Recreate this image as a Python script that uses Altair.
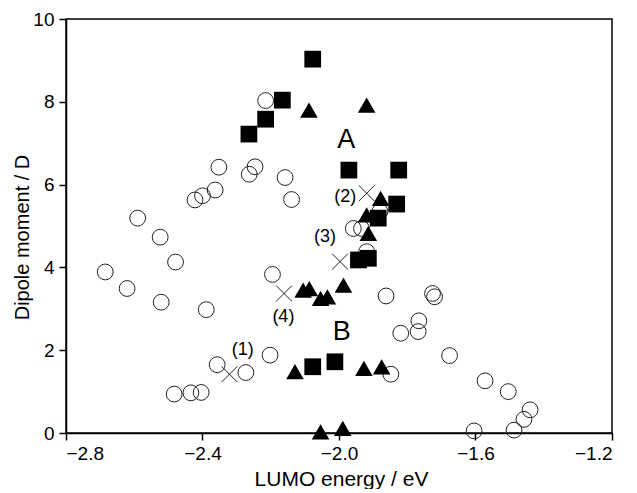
import altair as alt
import pandas as pd

# Open circles
circ_x = [-2.685, -2.621, -2.590, -2.524, -2.521, -2.483, -2.479, -2.434, -2.422, -2.404,
          -2.400, -2.389, -2.363, -2.357, -2.352, -2.273, -2.263, -2.246, -2.215, -2.202,
          -2.195, -2.158, -2.139, -1.958, -1.934, -1.880, -1.919, -1.862, -1.848, -1.819,
          -1.768, -1.766, -1.726, -1.720, -1.676, -1.604, -1.572, -1.504, -1.487, -1.458,
          -1.440]
circ_y = [3.89, 3.49, 5.19, 4.73, 3.16, 0.94, 4.13, 0.97, 5.63, 0.98,
          5.73, 2.98, 5.87, 1.65, 6.42, 1.46, 6.25, 6.43, 8.03, 1.88,
          3.83, 6.17, 5.64, 4.94, 4.94, 5.35, 4.38, 3.31, 1.42, 2.41,
          2.45, 2.71, 3.37, 3.29, 1.87, 0.05, 1.26, 1.00, 0.07, 0.33,
          0.56]

# Filled squares
sq_x = [-2.264, -2.215, -2.166, -2.077, -1.971, -1.825, -1.831, -1.885, -1.943, -1.914,
        -2.077, -2.012]
sq_y = [7.22, 7.58, 8.04, 9.03, 6.35, 6.35, 5.53, 5.19, 4.18, 4.22,
        1.60, 1.72]

# Filled triangles
tri_x = [-2.088, -1.919, -1.878, -1.919, -1.914, -2.105, -2.087, -2.054, -2.034, -1.987,
         -2.129, -1.927, -1.875, -2.054, -1.989]
tri_y = [7.80, 7.92, 5.67, 5.27, 4.82, 3.45, 3.49, 3.25, 3.29, 3.57,
         1.48, 1.56, 1.60, 0.03, 0.11]

# Crosses with numbered labels
cross_x = [-2.321, -1.919, -1.997, -2.161]
cross_y = [1.42, 5.79, 4.14, 3.37]
cross_lab = ["(1)", "(2)", "(3)", "(4)"]
lab_x = [-2.282, -1.982, -2.041, -2.163]
lab_y = [2.00, 5.71, 4.73, 2.79]

# Group letters
grp_lab = ["A", "B"]
grp_x = [-1.979, -1.992]
grp_y = [7.08, 2.45]

x_ticks = [-2.8, -2.4, -2.0, -1.6, -1.2]
y_ticks = [0, 2, 4, 6, 8, 10]

circles = pd.DataFrame({"x": circ_x, "y": circ_y})
squares = pd.DataFrame({"x": sq_x, "y": sq_y})
tris = pd.DataFrame({"x": tri_x, "y": tri_y})
crosses = pd.DataFrame({"x": cross_x, "y": cross_y})
labels = pd.DataFrame({"x": lab_x, "y": lab_y, "t": cross_lab})
groups = pd.DataFrame({"x": grp_x, "y": grp_y, "t": grp_lab})

FONT = "Liberation Sans"

xs = alt.Scale(domain=[-2.8, -1.2], nice=False, zero=False)
ys = alt.Scale(domain=[0, 10], nice=False, zero=False)

xaxis = alt.Axis(values=x_ticks, title="LUMO energy / eV", grid=False,
                 labelExpr="replace(format(datum.value, '.1f'), '-', '\u2212')",
                 tickSize=7, tickColor="black", tickWidth=1.5,
                 domainColor="black", domainWidth=1.5,
                 labelFontSize=19, labelFont=FONT, labelColor="black", labelPadding=4,
                 titleFontSize=21, titleFont=FONT, titleFontWeight="normal",
                 titleColor="black", titleX=275, titleY=52,
                 titleBaseline="alphabetic", titleAlign="center")
yaxis = alt.Axis(values=y_ticks, title="Dipole moment / D", grid=False,
                 format="d",
                 tickSize=7, tickColor="black", tickWidth=1.5,
                 domainColor="black", domainWidth=1.5,
                 labelFontSize=19, labelFont=FONT, labelColor="black", labelPadding=5,
                 titleFontSize=20, titleFont=FONT, titleFontWeight="normal",
                 titleColor="black", titleAngle=270, titleX=-44, titleY=218,
                 titleBaseline="middle", titleAlign="center")

X = alt.X("x:Q", scale=xs, axis=xaxis)
Y = alt.Y("y:Q", scale=ys, axis=yaxis)
Xn = alt.X("x:Q", scale=xs)
Yn = alt.Y("y:Q", scale=ys)

c_layer = alt.Chart(circles).mark_point(
    shape="circle", filled=False, stroke="#222", strokeWidth=1, size=250, opacity=1
).encode(x=X, y=Y)

s_layer = alt.Chart(squares).mark_point(
    shape="square", filled=True, color="black", size=280, opacity=1
).encode(x=Xn, y=Yn)

t_layer = alt.Chart(tris).mark_point(
    shape="triangle-up", filled=True, color="black", size=310, opacity=1
).encode(x=Xn, y=Yn)

x_layer = alt.Chart(crosses).mark_point(
    shape="M-1,-1L1,1M-1,1L1,-1", filled=False, stroke="#222", strokeWidth=1,
    size=250, opacity=1
).encode(x=Xn, y=Yn)

l_layer = alt.Chart(labels).mark_text(
    font=FONT, fontSize=18, color="black", align="center", baseline="middle"
).encode(x=Xn, y=Yn, text="t:N")

g_layer = alt.Chart(groups).mark_text(
    font=FONT, fontSize=27, color="black", align="center", baseline="middle"
).encode(x=Xn, y=Yn, text="t:N")

chart = alt.layer(c_layer, s_layer, t_layer, x_layer, l_layer, g_layer).properties(
    width=546, height=414,
    autosize=alt.AutoSizeParams(type="none"),
    padding={"left": 58, "top": 11, "right": 8, "bottom": 56},
    background="white",
).configure_view(stroke="black", strokeWidth=1.5)

chart.save("out.html", embed_options={"renderer": "svg", "actions": False})
